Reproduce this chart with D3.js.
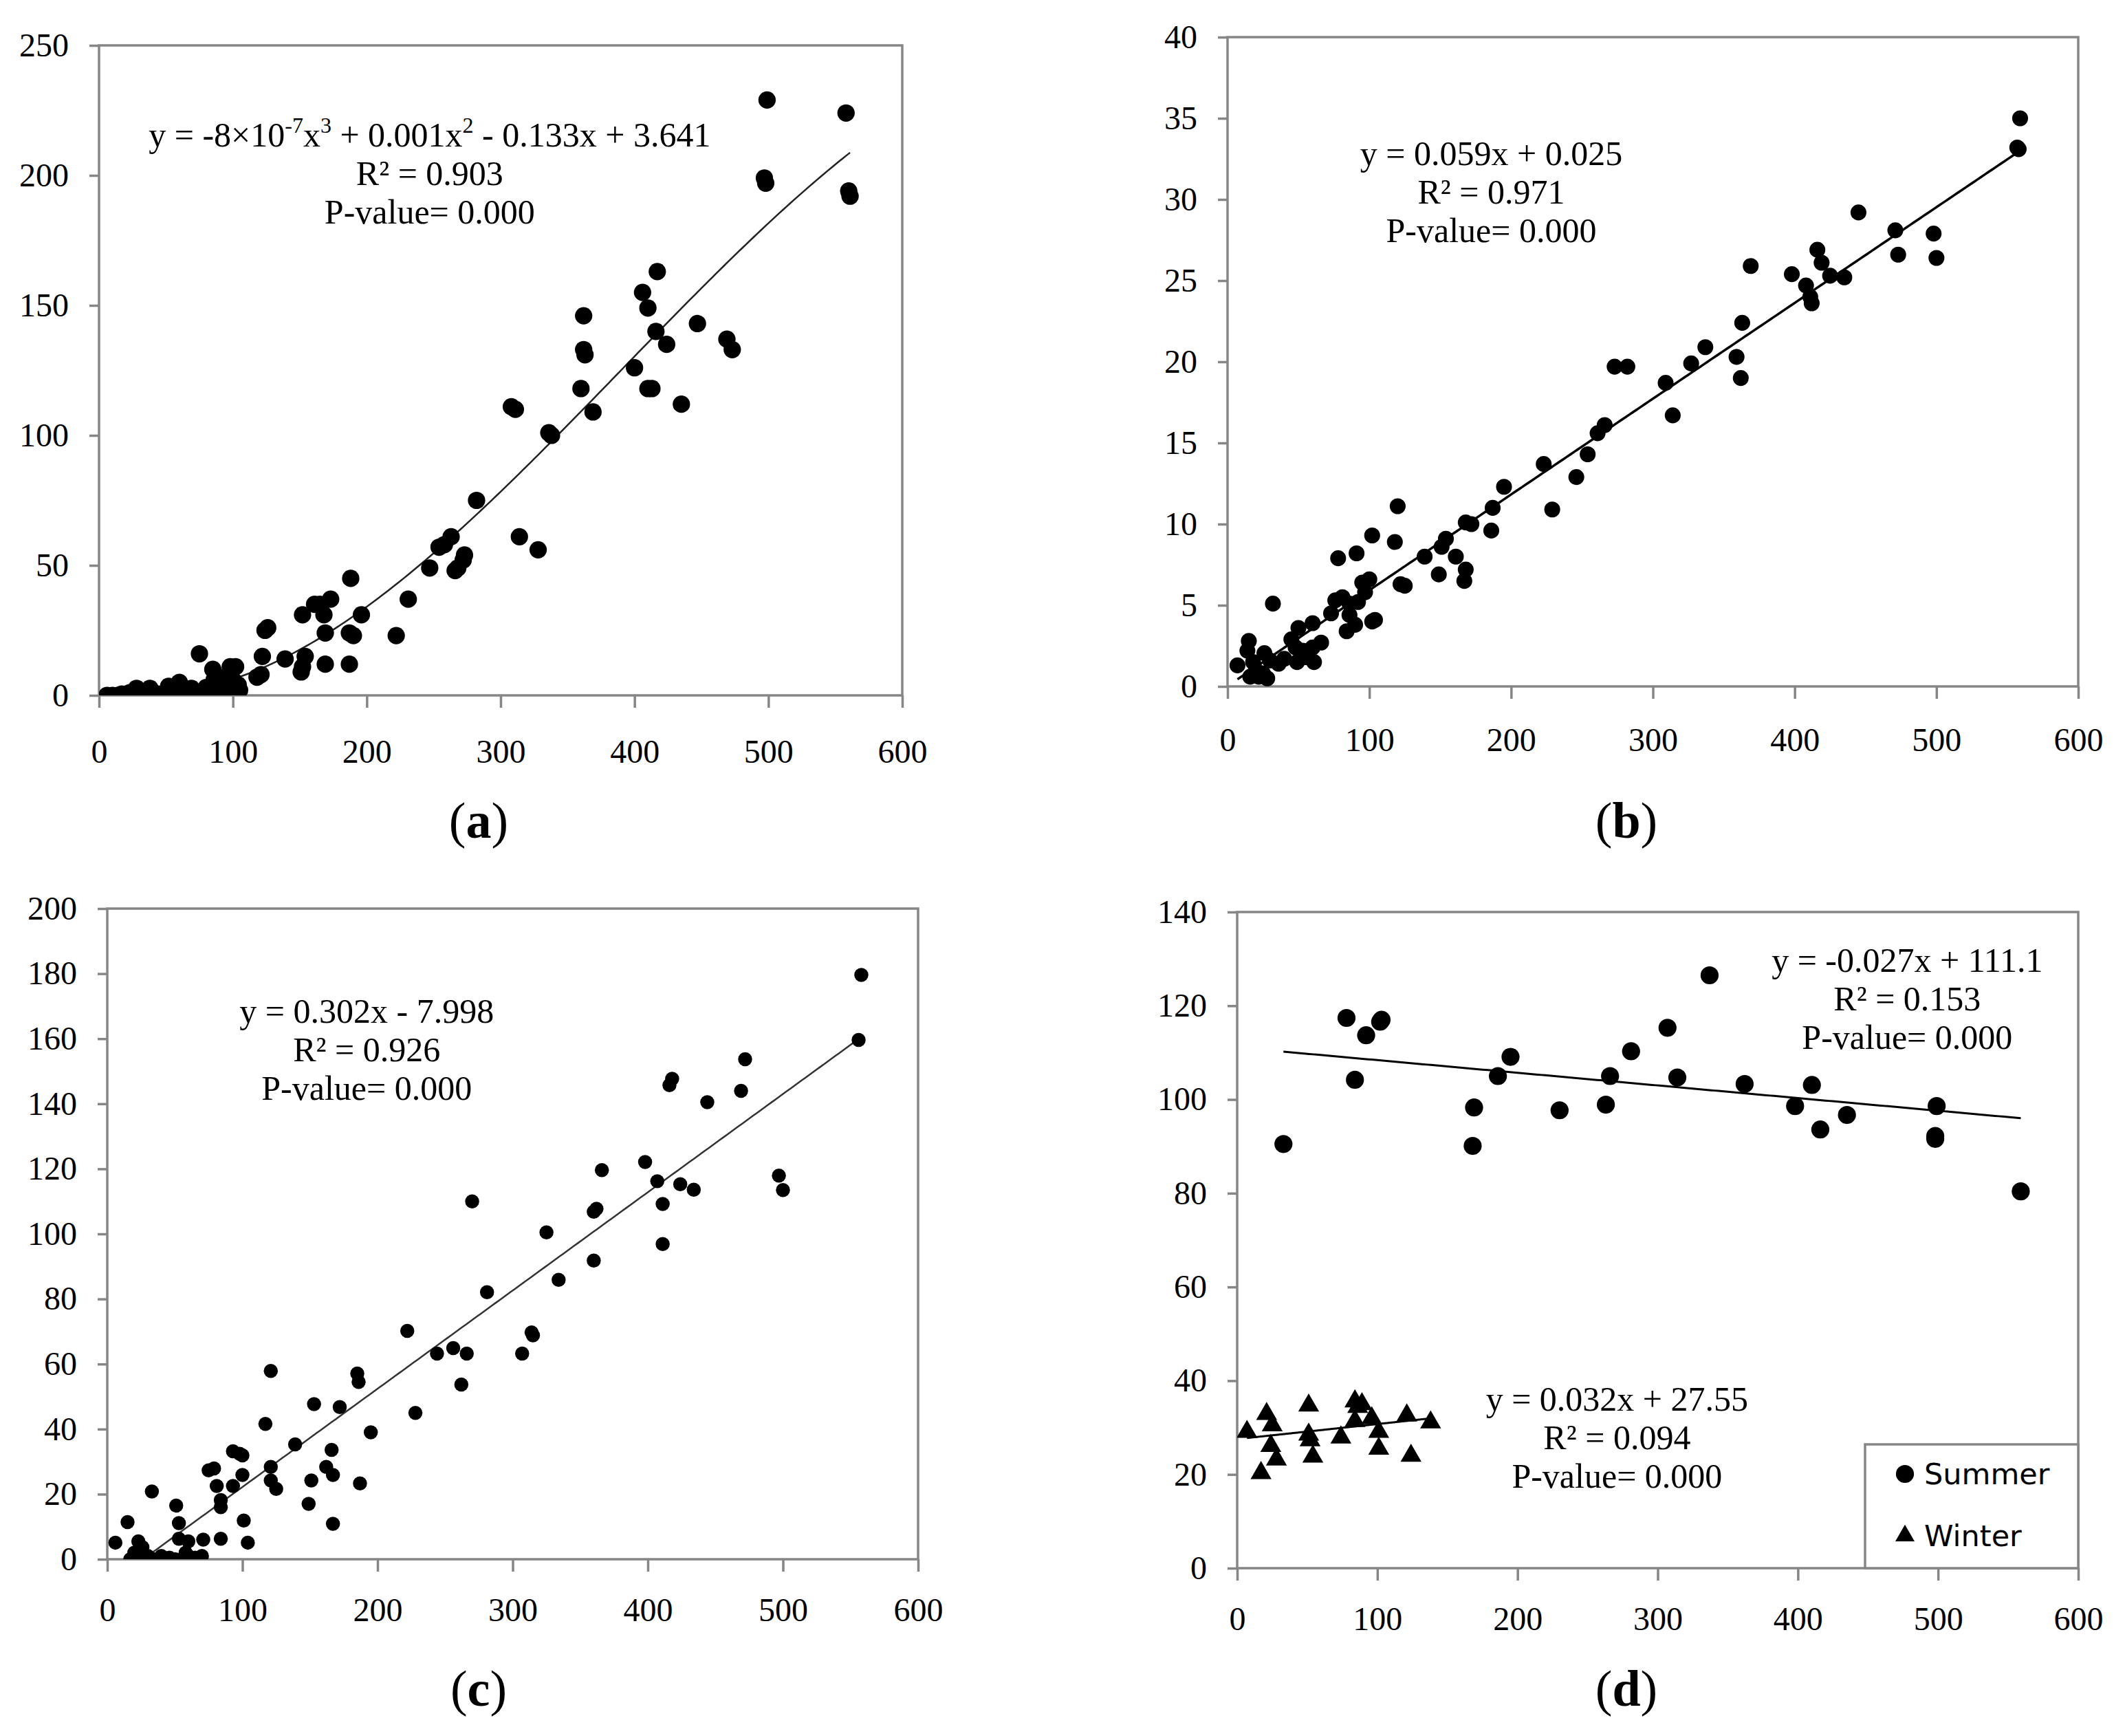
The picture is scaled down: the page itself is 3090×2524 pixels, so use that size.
<!DOCTYPE html>
<html>
<head>
<meta charset="utf-8">
<script src="https://cdn.jsdelivr.net/npm/d3@7"></script>
<style>
  body { margin: 0; background: #fff; }
  text { font-family: "Liberation Serif", "Times New Roman", serif; }
</style>
</head>
<body>
<svg id="chart"></svg>
<script>
// Canvas size
var width = 3090, height = 2524;

// Shared x ticks
var xTicks = [0, 100, 200, 300, 400, 500, 600];
var yTicksA = [0, 50, 100, 150, 200, 250];
var yTicksB = [0, 5, 10, 15, 20, 25, 30, 35, 40];
var yTicksC = [0, 20, 40, 60, 80, 100, 120, 140, 160, 180, 200];
var yTicksD = [0, 20, 40, 60, 80, 100, 120, 140];

// Panel (a) points [x, y]
var pointsA = [
  [499,229],[558,224],[497,199],[498,197],[560,194],[561,192],
  [417,163],[406,155],[410,149],[362,146],[362,133],[363,131],[416,140],[424,135],[447,143],
  [469,137],[473,133],[400,126],[410,118],[413,118],[360,118],[435,112],[369,109],
  [308,111],[311,110],[336,101],[338,100],[282,75],[314,61],[328,56],
  [263,61],[258,58],[254,57],[273,54],[272,52],[268,49],[266,48],[247,49],[231,37],[222,23],
  [196,31],[188,45],[187,24],[190,23],[187,12],
  [173,37],[165,35],[161,35],[168,31],[152,31],[169,24],[169,12],[154,15],[152,11],[151,9],
  [139,14],[126,26],[124,25],[122,15],[121,8],[118,7],
  [75,16],[85,10],[98,11],[102,11],[94,7],[104,4],[86,6],[92,4],[100,6],[96,2],[105,2],[88,1],
  [60,5],[52,3.5],[38,2.7],[28,2.7],[69,2.7],[79,1],[93,0],
  [6,0],[10,0],[14,0],[17,0.5],[20,0],[23,1],[26,0],[30,0.5],[33,0],[36,1],[40,0],[44,0.5],
  [48,0],[50,1],[55,2],[57,0],[62,1],[65,0],[70,1],[72,0],[80,3],[83,0.5]
];

// Panel (b) points
var pointsB = [
  [559,35],[557,33.2],[558,33.1],[445,29.2],[471,28.1],[498,27.9],[473,26.6],[500,26.4],
  [416,26.9],[419,26.1],[425,25.3],[435,25.2],[398,25.4],[408,24.7],[412,23.6],[411,24],
  [369,25.9],[363,22.4],[359,20.3],[362,19],[337,20.9],[327,19.9],[309,18.7],[314,16.7],
  [273,19.7],[282,19.7],[266,16.1],[261,15.6],[254,14.3],[246,12.9],[229,10.9],[223,13.7],
  [195,12.3],[187,11],[186,9.6],[172,10],[168,10.1],[168,7.2],[167,6.5],[161,8],[154,9.1],
  [151,8.6],[149,6.9],[139,8],[120,11.1],[118,8.9],[122,6.3],[125,6.2],[102,9.3],[102,4],
  [104,4.1],[91,8.2],[78,7.9],[95,6.4],[100,6.6],[97,5.8],[92,5.2],[86,5.1],[81,5.5],[76,5.3],
  [73,4.5],[86,4.4],[84,3.4],[90,3.8],[66,2.7],[60,3.9],[50,3.6],[48,2.4],[53,2.2],[60,2.4],
  [61,1.5],[49,1.5],[32,5.1],[36,1.4],[26,2.05],[15,2.8],[7,1.3],[14,2.2],[18,1.5],[20,1],
  [22,0.6],[25,0.8],[28,0.5],[30,1.6],[16,0.6],[55,1.8],[40,1.7],[45,2.9]
];

// Panel (c) points
var pointsC = [
  [558,179.6],[556,159.6],[472,153.7],[469,144],[418,147.7],[416,145.7],[444,140.5],[398,122.1],
  [366,119.6],[497,117.9],[500,113.5],[407,116.2],[424,115.3],[434,113.6],[411,109.2],[360,106.8],
  [362,107.7],[411,96.9],[360,91.8],[270,110],[325,100.5],[334,85.9],[281,82.1],[314,69.7],
  [315,68.8],[307,63.2],[266,63.2],[256,64.9],[244,63.2],[262,53.7],[222,70.2],[228,45],
  [185,57.1],[186,54.5],[195,39],[187,23.3],[172,46.8],[153,47.7],[166,33.6],[162,28.4],
  [167,25.9],[151,24.2],[149,17],[167,10.9],[139,35.3],[121,57.9],[117,41.6],[121,28.4],
  [121,24.2],[125,21.6],[93,33.2],[98,32.4],[100,31.9],[93,22.5],[100,25.9],[101,11.9],
  [104,5.1],[75,27.3],[79,27.9],[81,22.5],[84,18.2],[84,16],[84,6.3],[71,6],[51,16.5],
  [53,11.1],[33,20.8],[15,11.4],[6,5.1],[23,5.5],[26,3.7],[60,5.5],[53,6.3],
  [17,0],[25,0],[40,1],[46,0.5],[50,0],[55,0],[60,1],[65,0.5],[70,1],[20,2],[30,1],[35,0],[58,2],[63,0]
];

// Panel (d) points
var summerD = [
  [33,90.5],[78,117.4],[84,104.2],[92,113.7],[102,116.6],[103,117],[169,98.3],[168,90.1],
  [186,105],[195,109.1],[230,97.7],[263,98.9],[266,105],[281,110.3],[307,115.3],[314,104.7],
  [337,126.5],[362,103.3],[398,98.6],[410,103.1],[416,93.6],[435,96.7],[499,98.6],[498,91.6],
  [498,92.2],[559,80.4]
];
var winterD = [
  [7,29.1],[17,20.3],[21,32.9],[25,30.5],[24,26.1],[28,23.2],[51,34.7],[51,28.5],[52,27.3],
  [54,23.8],[74,27.9],[84,35.6],[89,35],[86,34.4],[84,31.4],[96,32],[101,29.1],[101,25.5],
  [121,32.6],[124,24],[138,31.1]
];

// Printed linear fits
var fitB = [0.059, 0.025];
var fitC = [0.302, -7.998];
var fitSummer = [-0.027, 111.1];
var fitWinter = [0.032, 27.55];

// Annotation lines
var eqA = [["y = -8×10", 0], ["-7", 1], ["x", 0], ["3", 1], [" + 0.001x", 0], ["2", 1], [" - 0.133x + 3.641", 0]];
var textA = ["R² = 0.903", "P-value= 0.000"];
var textB = ["y = 0.059x + 0.025", "R² = 0.971", "P-value= 0.000"];
var textC = ["y = 0.302x - 7.998", "R² = 0.926", "P-value= 0.000"];
var textSummer = ["y = -0.027x + 111.1", "R² = 0.153", "P-value= 0.000"];
var textWinter = ["y = 0.032x + 27.55", "R² = 0.094", "P-value= 0.000"];

var svg = d3.select("#chart")
  .attr("width", width)
  .attr("height", height);

svg.append("rect").attr("width", width).attr("height", height).attr("fill", "#fff");

var gray = "#868686";

// least squares polynomial fit (degree n) for panel (a)
function polyFit(pts, n) {
  var m = n + 1, A = [], b = [];
  for (var i = 0; i < m; i++) { A.push(new Array(m).fill(0)); b.push(0); }
  pts.forEach(function (p) {
    var x = p[0] / 100;
    for (var i = 0; i < m; i++) {
      b[i] += p[1] * Math.pow(x, i);
      for (var j = 0; j < m; j++) A[i][j] += Math.pow(x, i + j);
    }
  });
  for (var k = 0; k < m; k++) {
    for (var r = k + 1; r < m; r++) {
      var f = A[r][k] / A[k][k];
      for (var c = k; c < m; c++) A[r][c] -= f * A[k][c];
      b[r] -= f * b[k];
    }
  }
  var coef = new Array(m).fill(0);
  for (var k2 = m - 1; k2 >= 0; k2--) {
    var s = b[k2];
    for (var c2 = k2 + 1; c2 < m; c2++) s -= A[k2][c2] * coef[c2];
    coef[k2] = s / A[k2][k2];
  }
  return function (x) {
    var xs = x / 100, y = 0;
    for (var i = 0; i < m; i++) y += coef[i] * Math.pow(xs, i);
    return y;
  };
}

function panel(cfg, id) {
  var x = d3.scaleLinear().domain([0, 600]).range([cfg.left, cfg.right]);
  var y = d3.scaleLinear().domain([0, cfg.ymax]).range([cfg.bottom, cfg.top]);
  var g = svg.append("g");

  g.append("clipPath").attr("id", "clip" + id)
    .append("rect")
    .attr("x", cfg.left).attr("y", cfg.top)
    .attr("width", cfg.right - cfg.left).attr("height", cfg.bottom - cfg.top);

  // axes
  var yAxis = g.append("g")
    .attr("transform", "translate(" + cfg.left + ",0)")
    .call(d3.axisLeft(y).tickValues(cfg.yTicks).tickSize(14).tickPadding(30));
  var xAxis = g.append("g")
    .attr("transform", "translate(0," + cfg.bottom + ")")
    .call(d3.axisBottom(x).tickValues(xTicks).tickSize(18).tickPadding(cfg.xPad));
  [yAxis, xAxis].forEach(function (a) {
    a.select(".domain").remove();
    a.selectAll("line").attr("stroke", gray).attr("stroke-width", 3.5);
    a.selectAll("text")
      .style("font-family", "'Liberation Serif', serif")
      .style("font-size", "48px")
      .attr("fill", "#000");
  });

  // frame
  g.append("rect")
    .attr("x", cfg.left).attr("y", cfg.top)
    .attr("width", cfg.right - cfg.left).attr("height", cfg.bottom - cfg.top)
    .attr("fill", "none").attr("stroke", gray).attr("stroke-width", 3.5);

  // trend lines
  var plot = g.append("g").attr("clip-path", "url(#clip" + id + ")");
  cfg.trends.forEach(function (t) {
    var xs = d3.range(t.from, t.to + 0.01, (t.to - t.from) / 200);
    plot.append("path")
      .datum(xs)
      .attr("fill", "none")
      .attr("stroke", t.color)
      .attr("stroke-width", t.width)
      .attr("d", d3.line().x(function (d) { return x(d); }).y(function (d) { return y(t.f(d)); }));
  });

  // markers
  cfg.series.forEach(function (s) {
    plot.selectAll(null)
      .data(s.data)
      .enter()
      .append("path")
      .attr("transform", function (d) { return "translate(" + x(d[0]) + "," + y(d[1]) + ")"; })
      .attr("d", d3.symbol().type(s.type).size(s.size))
      .attr("fill", "#000");
  });

  // annotations
  cfg.notes.forEach(function (n) {
    n.lines.forEach(function (line, i) {
      var t = g.append("text")
        .attr("x", x(n.x))
        .attr("y", y(n.y) + i * n.gap)
        .attr("text-anchor", "middle")
        .style("font-size", "50px")
        .attr("fill", "#000");
      if (typeof line === "string") {
        t.text(line);
      } else {
        var prevSup = 0;
        line.forEach(function (part) {
          var sp = t.append("tspan").text(part[0]);
          if (part[1] && !prevSup) sp.attr("dy", -20).style("font-size", "32px");
          else if (part[1]) sp.style("font-size", "32px");
          else if (prevSup) sp.attr("dy", 20);
          prevSup = part[1];
        });
      }
    });
  });

  // panel label
  var lab = svg.append("text")
    .attr("x", cfg.labelX).attr("y", cfg.labelY)
    .attr("text-anchor", "middle")
    .style("font-size", "74px")
    .attr("fill", "#000");
  lab.append("tspan").text("(");
  lab.append("tspan").style("font-weight", "bold").text(cfg.label);
  lab.append("tspan").text(")");

  return { x: x, y: y, g: g };
}

var fitA = polyFit(pointsA, 3);

panel({
  left: 144, right: 1312, top: 66, bottom: 1011, ymax: 250, yTicks: yTicksA, xPad: 46,
  trends: [{ f: fitA, from: 6, to: 561, color: "#222", width: 2.5 }],
  series: [{ data: pointsA, type: d3.symbolCircle, size: 500 }],
  notes: [{ x: 247, y: 211, gap: 56, lines: [eqA].concat(textA) }],
  label: "a", labelX: 696, labelY: 1218
}, "a");

panel({
  left: 1785, right: 3022, top: 54, bottom: 998, ymax: 40, yTicks: yTicksB, xPad: 42,
  trends: [{ f: function (v) { return fitB[0] * v + fitB[1]; }, from: 7, to: 559, color: "#000", width: 3.5 }],
  series: [{ data: pointsB, type: d3.symbolCircle, size: 420 }],
  notes: [{ x: 186, y: 32.1, gap: 56, lines: textB }],
  label: "b", labelX: 2365, labelY: 1218
}, "b");

panel({
  left: 156, right: 1335, top: 1321, bottom: 2267, ymax: 200, yTicks: yTicksC, xPad: 38,
  trends: [{ f: function (v) { return fitC[0] * v + fitC[1]; }, from: 6, to: 558, color: "#333", width: 2.5 }],
  series: [{ data: pointsC, type: d3.symbolCircle, size: 330 }],
  notes: [{ x: 192, y: 165, gap: 56, lines: textC }],
  label: "c", labelX: 696, labelY: 2480
}, "c");

panel({
  left: 1799, right: 3022, top: 1326, bottom: 2280, ymax: 140, yTicks: yTicksD, xPad: 38,
  trends: [
    { f: function (v) { return fitSummer[0] * v + fitSummer[1]; }, from: 33, to: 559, color: "#000", width: 3 },
    { f: function (v) { return fitWinter[0] * v + fitWinter[1]; }, from: 7, to: 138, color: "#000", width: 3 }
  ],
  series: [
    { data: summerD, type: d3.symbolCircle, size: 540 },
    { data: winterD, type: d3.symbolTriangle, size: 400 }
  ],
  notes: [
    { x: 478, y: 127.3, gap: 56, lines: textSummer },
    { x: 271, y: 33.6, gap: 56, lines: textWinter }
  ],
  label: "d", labelX: 2365, labelY: 2480
}, "d");

// legend for (d)
var legendItems = [["Summer", d3.symbolCircle, 540], ["Winter", d3.symbolTriangle, 340]];
var lg = svg.append("g").attr("transform", "translate(2712,2100)");
lg.append("rect")
  .attr("width", 310).attr("height", 180)
  .attr("fill", "#fff").attr("stroke", gray).attr("stroke-width", 3.5);
legendItems.forEach(function (d, i) {
  var row = lg.append("g").attr("transform", "translate(58," + (43 + i * 90) + ")");
  row.append("path").attr("d", d3.symbol().type(d[1]).size(d[2])).attr("fill", "#000");
  row.append("text")
    .attr("x", 28).attr("dy", "0.36em")
    .style("font-family", "'DejaVu Sans', sans-serif")
    .style("font-size", "43px")
    .text(d[0]);
});
</script>
</body>
</html>
